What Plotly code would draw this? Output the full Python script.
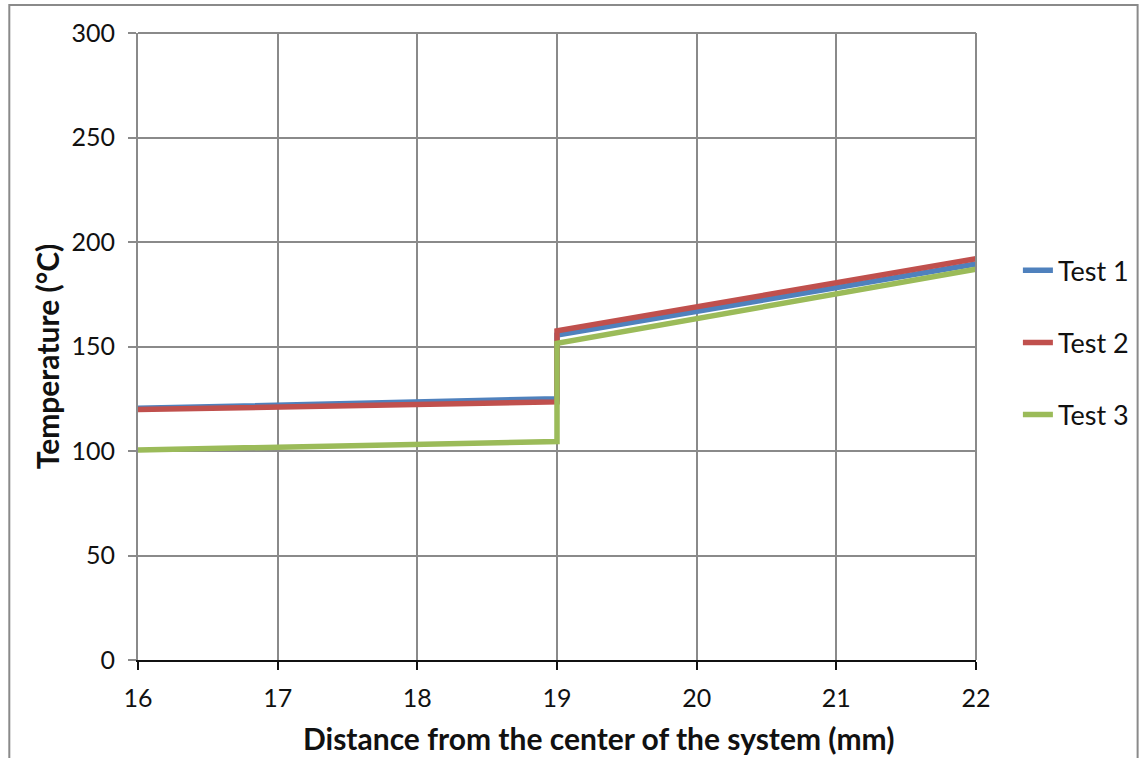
import plotly.graph_objects as go

# Data
distance = [16, 19, 19, 22]
test1 = [120.4, 125, 155.5, 189.5]
test2 = [119.8, 123.5, 157.5, 192]
test3 = [100.5, 104.5, 151.5, 187]
series_names = ["Test 1", "Test 2", "Test 3"]
series_colors = ["#4F81BD", "#C0504D", "#9BBB59"]
x_ticks = [16, 17, 18, 19, 20, 21, 22]
y_ticks = [0, 50, 100, 150, 200, 250, 300]
x_title = "Distance from the center of the system (mm)"
y_title = "Temperature (°C)"

FONT = "Lato, 'Open Sans', 'Liberation Sans', sans-serif"

fig = go.Figure()
for name, ys, col in zip(series_names, [test1, test2, test3], series_colors):
    fig.add_trace(go.Scatter(
        x=distance, y=ys, mode="lines", name=name, legendgroup=name,
        line=dict(color=col, width=5.5),
    ))

grid = "#8a8a8a"
L, R, T, B = 138, 978, 33, 660
PW, PH = R - L, B - T
fig.update_layout(
    width=1146, height=758,
    margin=dict(l=L, r=1146 - R, t=T, b=758 - B),
    paper_bgcolor="white", plot_bgcolor="white",
    font=dict(family=FONT, size=25, color="#111111"),
    showlegend=True,
    legend=dict(
        x=1.05, xanchor="left", y=0.506, yanchor="middle",
        font=dict(size=27, family=FONT, color="#111111"),
        traceorder="grouped", tracegroupgap=34,
        bgcolor="rgba(0,0,0,0)",
    ),
    xaxis=dict(
        range=[16, 22], tickvals=x_ticks, showgrid=True, gridcolor=grid, gridwidth=2,
        zeroline=False, showline=True, linecolor="#111111", linewidth=2,
        ticks="outside", ticklen=8, tickwidth=2, tickcolor="#111111",
        ticklabelstandoff=7,
    ),
    yaxis=dict(
        range=[0, 300], tickvals=y_ticks, showgrid=True, gridcolor=grid, gridwidth=2,
        zeroline=False, showline=True, linecolor=grid, linewidth=2,
        ticks="outside", ticklen=8, tickwidth=2, tickcolor=grid,
        ticklabelstandoff=8,
    ),
    annotations=[
        dict(text="<b>" + x_title + "</b>", xref="paper", yref="paper",
             x=(600 - L) / PW, y=(B - 738) / PH, xanchor="center", yanchor="middle",
             showarrow=False, font=dict(size=30, family=FONT, color="#111111")),
        dict(text="<b>" + y_title + "</b>", xref="paper", yref="paper",
             x=(47 - L) / PW, y=(B - 356) / PH, xanchor="center", yanchor="middle",
             textangle=-90, showarrow=False, font=dict(size=30, family=FONT, color="#111111")),
    ],
    shapes=[
        dict(type="rect", xref="paper", yref="paper",
             x0=(9 - L) / PW, x1=(1140 - L) / PW,
             y0=-0.2, y1=(B - 5) / PH,
             line=dict(color="#8a8a8a", width=2), layer="below"),
        dict(type="line", xref="paper", yref="paper", x0=1, x1=1, y0=0, y1=1,
             line=dict(color=grid, width=2)),
        dict(type="line", xref="paper", yref="paper", x0=0, x1=1, y0=1, y1=1,
             line=dict(color=grid, width=2)),
    ],
)

fig.write_html("out.html")
